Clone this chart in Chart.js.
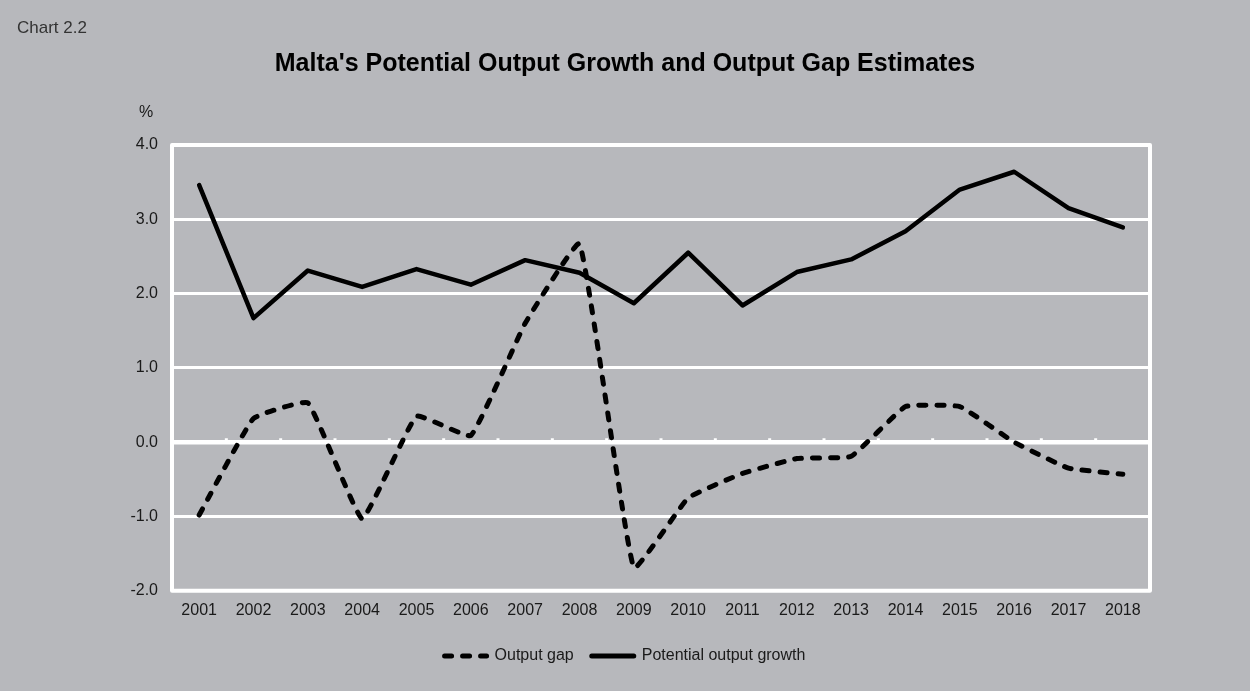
<!DOCTYPE html>
<html>
<head>
<meta charset="utf-8">
<title>Potential output growth and output gap</title>
<script src="https://cdn.jsdelivr.net/npm/chart.js@4/dist/chart.umd.min.js"></script>
<style>
  html, body { margin: 0; padding: 0; background: #b7b8bc; }
  #wrap { width: 1250px; height: 691px; position: relative; }
</style>
</head>
<body>
<div id="wrap"><canvas id="gapChart"></canvas></div>
<script>
// annual estimates, per cent
const years = ['2001', '2002', '2003', '2004', '2005', '2006', '2007', '2008', '2009',
               '2010', '2011', '2012', '2013', '2014', '2015', '2016', '2017', '2018'];
const outputGap = [-0.98, 0.32, 0.53, -1.03, 0.35, 0.09, 1.60, 2.67, -1.69,
                   -0.75, -0.42, -0.22, -0.19, 0.48, 0.48, 0.00, -0.35, -0.43];
const potentialGrowth = [3.46, 1.67, 2.31, 2.09, 2.33, 2.12, 2.45, 2.28, 1.87,
                         2.55, 1.84, 2.29, 2.46, 2.84, 3.40, 3.64, 3.15, 2.89];
const yMin = -2, yMax = 4, yStep = 1;

const FONT = "'Liberation Sans', Arial, sans-serif";

// white frame round the plot, small marks on the zero line, and the side labels
const frame = {
  id: 'frame',
  beforeDatasetsDraw(chart) {
    const { ctx, chartArea: a, scales } = chart;
    ctx.save();
    ctx.strokeStyle = '#ffffff';
    ctx.lineWidth = 4;
    ctx.lineJoin = 'round';
    ctx.strokeRect(a.left, a.top, a.right - a.left, a.bottom - a.top);

    const y0 = scales.y.getPixelForValue(0);
    ctx.lineWidth = 3;
    ctx.beginPath();
    for (let i = 0; i < years.length - 1; i++) {
      const xm = (scales.x.getPixelForValue(i) + scales.x.getPixelForValue(i + 1)) / 2;
      ctx.moveTo(xm, y0);
      ctx.lineTo(xm, y0 - 4);
    }
    ctx.stroke();
    ctx.restore();
  },
  afterDraw(chart) {
    const { ctx, chartArea: a } = chart;
    ctx.save();
    ctx.fillStyle = '#333333';
    ctx.font = '17px ' + FONT;
    ctx.textBaseline = 'middle';
    ctx.textAlign = 'left';
    ctx.fillText('Chart 2.2', 17, 28);
    ctx.fillStyle = '#1a1a1a';
    ctx.font = '16px ' + FONT;
    ctx.textAlign = 'center';
    ctx.fillText('%', a.left - 26, a.top - 32);
    ctx.restore();
  }
};

new Chart(document.getElementById('gapChart'), {
  type: 'line',
  data: {
    labels: years,
    datasets: [
      {
        label: 'Output gap',
        data: outputGap,
        borderColor: '#000000',
        backgroundColor: '#000000',
        borderWidth: 5,
        borderDash: [7, 11],
        borderCapStyle: 'round',
        borderJoinStyle: 'round',
        tension: 0.1,
        pointRadius: 0,
        pointStyle: 'line'
      },
      {
        label: 'Potential output growth',
        data: potentialGrowth,
        borderColor: '#000000',
        backgroundColor: '#000000',
        borderWidth: 4.5,
        borderCapStyle: 'round',
        borderJoinStyle: 'round',
        tension: 0,
        pointRadius: 0,
        pointStyle: 'line'
      }
    ]
  },
  options: {
    responsive: true,
    maintainAspectRatio: false,
    animation: false,
    layout: { padding: { left: 100, right: 100, top: 0, bottom: 17 } },
    scales: {
      x: {
        offset: true,
        grid: { display: false, drawTicks: false },
        border: { display: false },
        ticks: { color: '#1a1a1a', font: { family: FONT, size: 16 }, padding: 10, maxRotation: 0 }
      },
      y: {
        min: yMin,
        max: yMax,
        afterFit(scale) { scale.width = 72; },
        grid: {
          color: '#ffffff',
          lineWidth: c => (c.tick && c.tick.value === 0 ? 4.5 : 3),
          drawTicks: false
        },
        border: { display: false },
        ticks: {
          stepSize: yStep,
          color: '#1a1a1a',
          font: { family: FONT, size: 16 },
          padding: 14,
          callback: v => v.toFixed(1)
        }
      }
    },
    plugins: {
      title: {
        display: true,
        text: "Malta's Potential Output Growth and Output Gap Estimates",
        color: '#000000',
        font: { family: FONT, size: 25, weight: 'bold' },
        padding: { top: 49, bottom: 66 }
      },
      legend: {
        position: 'bottom',
        labels: {
          usePointStyle: true,
          pointStyleWidth: 42,
          color: '#1a1a1a',
          font: { family: FONT, size: 16 },
          padding: 18,
          // legend samples carry the dataset's dash pattern
          generateLabels(chart) {
            const items = Chart.defaults.plugins.legend.labels.generateLabels(chart);
            items.forEach(item => {
              const ds = chart.data.datasets[item.datasetIndex];
              item.lineDash = ds.borderDash || [];
              item.lineCap = 'round';
              item.lineWidth = 5;
              item.pointStyle = 'line';
              item.strokeStyle = '#000000';
            });
            return items;
          }
        }
      },
      tooltip: { enabled: false }
    }
  },
  plugins: [frame]
});
</script>
</body>
</html>
